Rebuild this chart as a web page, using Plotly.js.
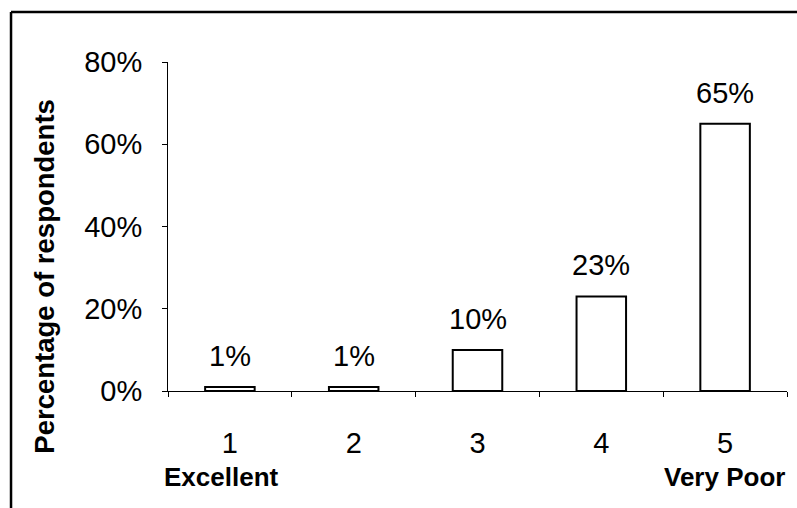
<!DOCTYPE html>
<html>
<head>
<meta charset="utf-8">
<script src="https://cdn.plot.ly/plotly-3.0.1.min.js"></script>
<style>
  html, body { margin: 0; padding: 0; background: #fff; }
  #chart { width: 797px; height: 508px; }
</style>
</head>
<body>
<div id="chart"></div>
<script>
// Survey rating scale (1 = Excellent ... 5 = Very Poor)
const ratings = ['1', '2', '3', '4', '5'];
const percentRespondents = [1, 1, 10, 23, 65];
const yTickValues = [0, 20, 40, 60, 80];
const yTickLabels = ['0%', '20%', '40%', '60%', '80%'];
const scaleEndLabels = ['Excellent', 'Very Poor'];

const FONT = 'Liberation Sans, Arial, sans-serif';

const bars = {
  type: 'bar',
  x: ratings,
  y: percentRespondents,
  width: 0.4,
  marker: { color: '#ffffff', line: { color: '#000000', width: 2 } },
  hoverinfo: 'skip'
};

// value labels above each bar (x given as category index)
const valueLabels = ratings.map((r, i) => ({
  x: i, y: percentRespondents[i], xref: 'x', yref: 'y',
  text: percentRespondents[i] + '%',
  showarrow: false, yanchor: 'bottom', yshift: 13,
  font: { family: FONT, size: 29, color: '#000' }
}));

const endLabels = [
  { x: 0.086, xanchor: 'center', text: scaleEndLabels[0] },
  { x: 1.0, xanchor: 'right', text: scaleEndLabels[1] }
].map(a => Object.assign(a, {
  xref: 'paper', yref: 'paper', y: -0.262, yanchor: 'middle',
  showarrow: false, font: { family: FONT, size: 26, color: '#000', weight: 'bold' }
}));

const yTitle = {
  xref: 'paper', yref: 'paper', x: -0.199, y: 0.35,
  xanchor: 'center', yanchor: 'middle', textangle: -90,
  text: '<b>Percentage of respondents</b>', showarrow: false,
  font: { family: FONT, size: 27.5, color: '#000' }
};

const layout = {
  width: 797, height: 508,
  margin: { l: 168, r: 10, t: 62, b: 117 },
  paper_bgcolor: '#fff', plot_bgcolor: '#fff',
  showlegend: false,
  font: { family: FONT, color: '#000' },
  xaxis: {
    type: 'category',
    range: [-0.5, 4.5],
    showgrid: false, zeroline: false,
    showline: true, linecolor: '#000', linewidth: 1,
    ticks: 'outside', tickson: 'boundaries', ticklen: 5, tickcolor: '#000',
    ticklabelstandoff: 26,
    tickfont: { family: FONT, size: 29, color: '#000' }
  },
  yaxis: {
    range: [0, 80],
    tickvals: yTickValues,
    ticktext: yTickLabels,
    showgrid: false, zeroline: false,
    showline: true, linecolor: '#000', linewidth: 1,
    ticks: 'outside', ticklen: 5, tickcolor: '#000',
    ticklabelstandoff: 14,
    tickfont: { family: FONT, size: 29, color: '#000' }
  },
  annotations: valueLabels.concat(endLabels, [yTitle]),
  shapes: [
    // outer frame (top and left edges)
    { type: 'line', xref: 'paper', yref: 'paper', x0: -0.2536, x1: 1.02, y0: 1.152, y1: 1.152,
      line: { color: '#000', width: 2.5 } },
    { type: 'line', xref: 'paper', yref: 'paper', x0: -0.2536, x1: -0.2536, y0: 1.152, y1: -0.36,
      line: { color: '#000', width: 2.5 } }
  ]
};

Plotly.newPlot('chart', [bars], layout, { displayModeBar: false, staticPlot: true });
</script>
</body>
</html>
